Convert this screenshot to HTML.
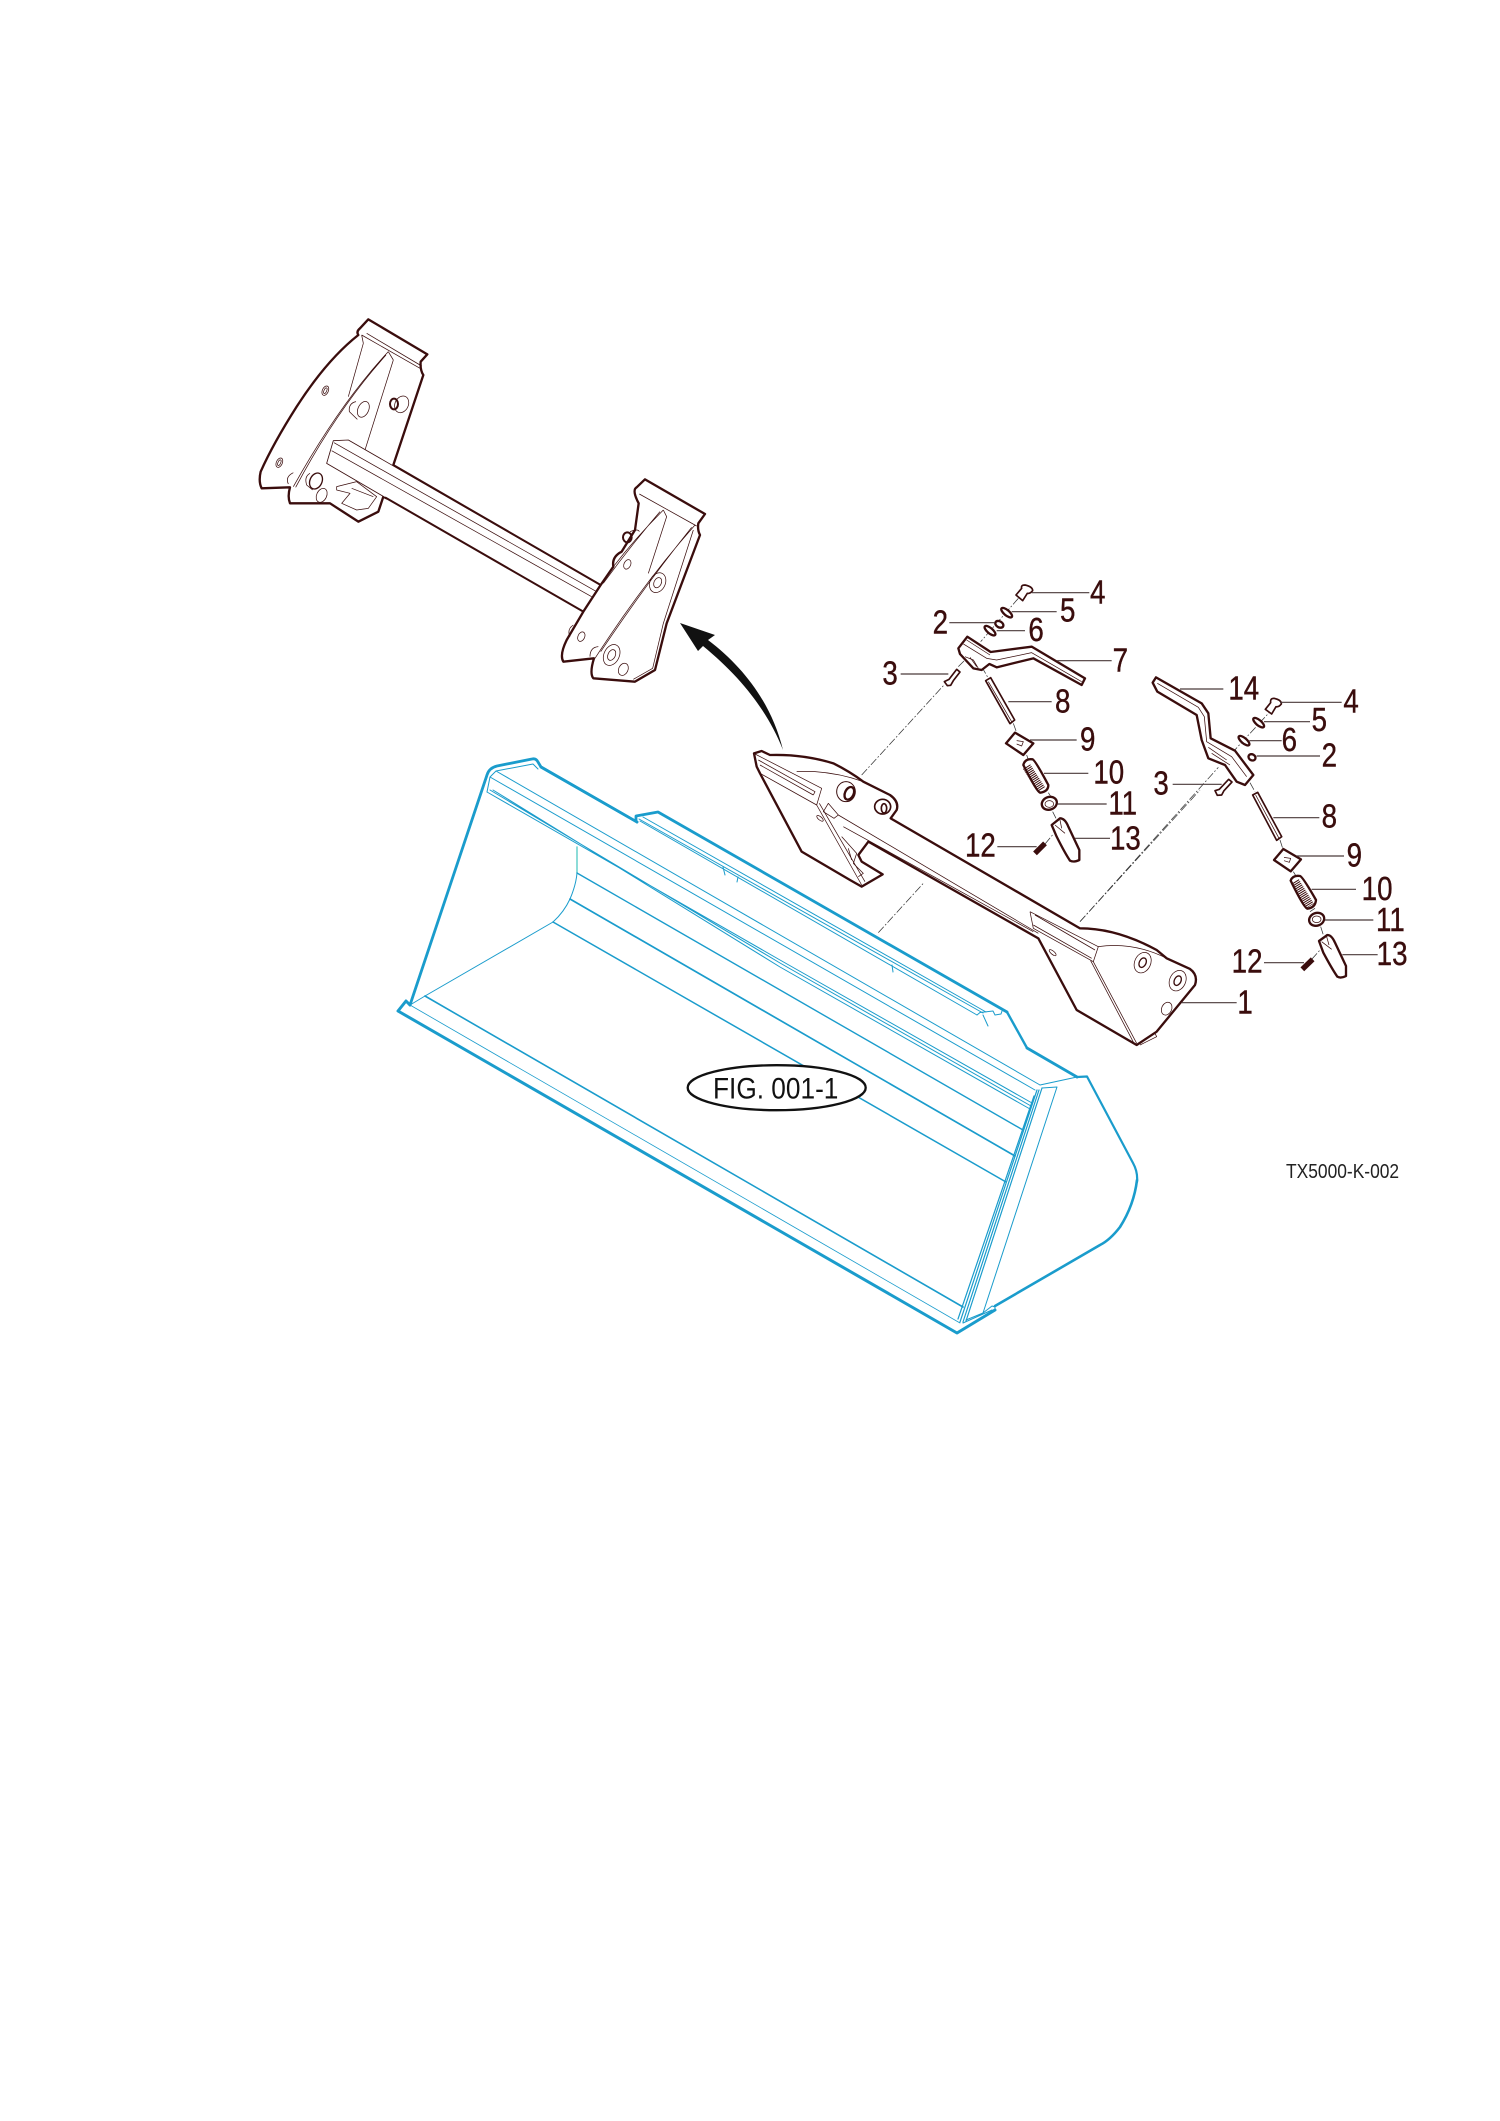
<!DOCTYPE html>
<html><head><meta charset="utf-8"><style>
html,body{margin:0;padding:0;background:#fff}
svg{display:block}
.t{font-family:"Liberation Sans",sans-serif;fill:#3a0d0d;stroke:#3a0d0d;stroke-width:1.2px;font-size:99px}
.b{fill:none;stroke:#1a9ccc;stroke-linejoin:round;stroke-linecap:round}
.m{fill:#fff;stroke:#3a0d0d;stroke-width:7;stroke-linejoin:round;stroke-linecap:round}
.n{fill:none;stroke:#3a0d0d;stroke-width:2.2;stroke-linejoin:round}
.l{fill:none;stroke:#4a3a3a;stroke-width:3.5}
.d{fill:none;stroke:#333;stroke-width:2.2;stroke-dasharray:24 6 5 6}
</style></head><body>
<svg width="1500" height="2121" viewBox="0 0 1500 2121" xmlns="http://www.w3.org/2000/svg">
<rect width="1500" height="2121" fill="#fff"/>

<!-- bucket (real coords) -->
<g class="b" stroke-width="1">
<path stroke-width="2.8" d="M410 1005 L487 775 Q489 768 497 766 L532 759 Q536 758 538 762 L541 767 L637 822"/>
<path stroke-width="2.8" d="M636 820 L636 816 L658 812 L1007 1012"/>
<path stroke-width="2.4" d="M1007 1012 L1027 1048"/>
<path stroke-width="2.8" d="M541 767 L637 822 M1027 1048 L1077 1077"/>
<path stroke-width="2.2" d="M1077 1077 L1087 1076.5 L1133 1163 Q1138 1172 1137 1182"/>
<path stroke-width="2.6" d="M1137 1180 Q1134 1205 1120 1227 Q1110 1240 1100 1245 L995 1306"/>
<path stroke-width="3" d="M995 1310 L957 1333 L398 1011 L406 1001 L410 1005"/>
<path d="M496 771 L533 764 L538 769 M496 771 L1040 1085 M490 777 L496 771 M490 777 L1035 1090 M490 777 L487 792"/>
<path d="M487 792 L780 960 L1032 1103 M490 790 L780 963 L1031 1106 M493 790 L780 967 L1030 1109"/>
<path d="M1040 1085 L1077 1077"/>
<path stroke="#5ccdc8" stroke-width="1.4" d="M577 847 L577 873"/>
<path d="M577 873 Q576 885 570 899 Q564 912 553 922 L425 996 L410 1005"/>
<path stroke-width="1.4" d="M577 873 L1023 1130"/>
<path stroke-width="1.7" d="M570 899 L1015 1156"/>
<path stroke-width="1.5" d="M553 922 L1006 1182"/>
<path stroke-width="1.6" d="M425 996 L963 1307"/>
<path stroke-width=".8" d="M410 1005 L960 1323"/>
<path d="M639 819 L983 1013 M640 821 L977 1015 M643 817 L986 1012"/>
<path d="M977 1015 L980 1012.5 L993 1011 L995 1015 L1001 1014 L1002 1011 M983 1015 L988 1026"/>
<path d="M723 867 L725 875 M738 877 L737 882 M892 965 L893 972"/>
<path d="M1042 1088 L1057 1087 L983 1313 L992 1306 L995 1307 L995 1310"/>
<path stroke-width="1.2" d="M1037 1090 L960 1322 M1039 1090 L963 1322 M1042 1088 L966 1321 M1034 1096 L958 1319"/>
<path d="M963 1323 L992 1310 M966 1320 L983 1313"/>
</g>

<!-- arrow -->
<path d="M680 623 L715 635 L708 640 C745 668 772 705 783 750 C768 712 742 678 703 646 L698 651 Z" fill="#111"/>

<!-- detached subframe -->
<g transform="translate(230,290) scale(.33333)">
<path class="m" d="M415 88 L592 193 L572 215 Q570 240 580 255 L490 525 L470 625 L460 620 L445 665 L385 695 L300 640 L180 640 Q172 620 180 592 L95 595 Q85 575 92 545 Q130 460 200 350 Q290 210 385 135 Q378 125 390 115 Z"/>
<g class="n">
<path d="M395 135 L570 235 M410 130 L575 228 M400 160 L355 320 M490 210 L405 480 M475 185 L490 210 M395 135 L400 160"/>
<path d="M475 185 Q330 340 190 590 M468 195 Q320 360 197 592"/>
<path d="M320 590 L380 575 L440 620 L415 655 L380 660 L335 640 L360 610 L320 600 Z M365 595 L430 620"/>
<ellipse cx="286" cy="302" rx="9" ry="15" transform="rotate(25 286 302)"/><ellipse cx="286" cy="302" rx="4" ry="9" transform="rotate(25 286 302)"/>
<ellipse cx="148" cy="518" rx="9" ry="15" transform="rotate(25 148 518)"/><ellipse cx="148" cy="518" rx="4" ry="9" transform="rotate(25 148 518)"/>
<ellipse cx="400" cy="358" rx="16" ry="25" transform="rotate(25 400 358)"/>
<path d="M378 335 Q355 340 358 365 L382 388"/>
<ellipse cx="515" cy="343" rx="20" ry="26" transform="rotate(25 515 343)"/>
<ellipse cx="492" cy="342" rx="12" ry="16" style="stroke-width:6"/>
<ellipse cx="258" cy="573" rx="18" ry="25" transform="rotate(25 258 573)" style="stroke-width:4"/>
<path d="M240 550 Q222 560 230 585 L248 600"/>
<ellipse cx="275" cy="616" rx="15" ry="22" transform="rotate(25 275 616)"/>
<path d="M190 548 Q165 560 175 582"/>
</g>
<!-- tube -->
<path class="m" d="M355 450 L1110 885 L1060 965 L470 625 L290 520 L310 452 Z" style="stroke-width:2.5"/>
<path fill="none" stroke="#3a0d0d" stroke-width="6" d="M490 525 L1112 885 M465 622 L1060 965"/>
<path class="n" d="M312 458 L1100 905 M305 482 L1085 920"/>
<!-- right bracket -->
<path class="m" d="M1245 568 L1425 672 L1405 700 Q1402 720 1410 735 L1310 1000 L1275 1140 L1215 1175 L1090 1165 Q1078 1150 1092 1105 L1000 1115 Q988 1095 1010 1050 L1060 965 L1112 885 L1150 830 Q1145 800 1175 785 L1215 720 L1226 640 Q1205 600 1220 592 Z"/>
<g class="n">
<path d="M1228 612 L1400 708 M1300 660 L1310 680 L1255 850 M1300 660 Q1220 740 1150 830 M1290 665 Q1200 770 1120 880 M1395 705 Q1240 880 1095 1105 M1385 712 Q1250 880 1112 1085"/>
<path d="M1390 720 L1300 1000 L1268 1135 L1210 1168"/>
<ellipse cx="1192" cy="823" rx="10" ry="15" transform="rotate(25 1192 823)"/>
<ellipse cx="1054" cy="1040" rx="10" ry="15" transform="rotate(25 1054 1040)"/>
<ellipse cx="1283" cy="878" rx="23" ry="31" transform="rotate(25 1283 878)"/><ellipse cx="1283" cy="878" rx="11" ry="16" transform="rotate(25 1283 878)"/>
<ellipse cx="1145" cy="1095" rx="23" ry="33" transform="rotate(25 1145 1095)"/><ellipse cx="1145" cy="1095" rx="11" ry="17" transform="rotate(25 1145 1095)"/>
<ellipse cx="1180" cy="1138" rx="14" ry="19" transform="rotate(25 1180 1138)"/>
<path d="M1105 1070 Q1080 1072 1080 1100"/>
<path d="M1030 1005 Q1010 1018 1020 1040"/>
<ellipse cx="1192" cy="742" rx="13" ry="15" style="stroke-width:6"/>
<path d="M1200 725 Q1225 715 1228 725"/>
</g>
</g>

<!-- main frame and left exploded parts -->
<g transform="translate(740,570) scale(.33333)">
<path class="d" d="M365 615 L612 345 M655 290 L680 265 M835 85 L722 215 M725 290 L745 325 M820 460 L830 488 M860 555 L866 572 M925 668 L933 680 M938 725 L948 745 M915 822 L940 792 M415 1088 L550 940 M1020 1055 L1380 660"/>
<path class="m" d="M42 550 L65 543 L90 555 Q190 552 280 580 Q330 605 370 635 L450 675 Q478 695 470 720 L452 745 L1020 1075 Q1130 1075 1250 1140 L1280 1165 L1350 1197 Q1375 1215 1365 1245 L1250 1385 L1190 1425 L1010 1320 L895 1105 L385 815 L355 855 L365 875 L428 913 L365 950 L330 930 L185 845 L60 610 L50 590 Z"/>
<g class="n">
<path d="M45 552 L245 655 L230 705 L60 610 M55 570 L225 665 L220 675 M60 585 L220 675"/>
<path d="M230 705 L365 945 M238 700 L375 935 M170 605 L225 605 Q300 610 370 635"/>
<path d="M295 735 L895 1090 M310 770 L880 1085 M295 735 L265 700 L250 725 L282 745 Z"/>
<ellipse cx="240" cy="745" rx="12" ry="5" transform="rotate(40 240 745)"/>
<path d="M305 800 L350 850 L340 880 L370 910 L355 920 M325 835 L335 870"/>
<path d="M870 1025 L1075 1130 L1060 1175 L880 1075 L870 1025 M885 1035 L1065 1140 M880 1065 L1055 1165"/>
<path d="M1060 1175 L1190 1420 M1052 1172 L1182 1420 M1075 1130 Q1180 1115 1280 1165"/>
<ellipse cx="938" cy="1148" rx="13" ry="5" transform="rotate(40 938 1148)"/>
<ellipse cx="1208" cy="1178" rx="24" ry="32" transform="rotate(25 1208 1178)"/><ellipse cx="1208" cy="1178" rx="10" ry="15" transform="rotate(25 1208 1178)" style="stroke-width:4"/>
<ellipse cx="1313" cy="1232" rx="24" ry="32" transform="rotate(25 1313 1232)"/><ellipse cx="1313" cy="1232" rx="10" ry="15" transform="rotate(25 1313 1232)" style="stroke-width:4"/>
<ellipse cx="1280" cy="1316" rx="15" ry="20" transform="rotate(25 1280 1316)"/>
<path d="M1195 1420 L1245 1390 L1250 1400 L1200 1425"/>
<ellipse cx="318" cy="665" rx="28" ry="30" style="stroke-width:3"/><ellipse cx="328" cy="670" rx="13" ry="20" transform="rotate(25 328 670)" style="stroke-width:7"/>
<ellipse cx="428" cy="710" rx="24" ry="22" style="stroke-width:5"/><ellipse cx="432" cy="715" rx="8" ry="14" style="stroke-width:5"/>
</g>
<!-- 4 -->
<path class="m" d="M828 75 L845 55 Q842 45 855 45 Q878 50 878 62 Q870 72 862 70 L848 92 Z" style="stroke-width:5"/>
<path class="l" d="M875 68 H1048"/>
<ellipse class="m" cx="800" cy="128" rx="20" ry="8" transform="rotate(40 800 128)"/>
<path class="l" d="M815 125 H950"/>
<ellipse class="m" cx="778" cy="163" rx="13" ry="9" transform="rotate(30 778 163)"/>
<path class="l" d="M628 158 H765"/>
<ellipse class="m" cx="750" cy="182" rx="20" ry="8" transform="rotate(40 750 182)"/>
<path class="l" d="M770 182 H855"/>
<!-- 7 -->
<path class="m" d="M682 200 L752 246 L875 230 L1035 325 L1025 345 L880 265 L770 292 L748 282 L725 300 L700 295 L660 252 L655 235 Z"/>
<path class="n" d="M670 222 L740 265 L770 270 L875 248 L1025 335 M680 210 L750 255 M675 260 L700 270 L715 295 M690 262 L710 290"/>
<path class="l" d="M950 272 H1115"/>
<!-- 3 -->
<path class="m" d="M613 335 L627 328 L650 298 L660 306 L640 332 L632 346 L622 347 Z" style="stroke-width:5"/>
<path class="l" d="M482 312 H625"/>
<!-- 8 -->
<path class="m" d="M737 332 L752 323 L824 450 L810 461 Z" style="stroke-width:5"/>
<path class="n" d="M745 335 L815 455"/>
<path class="l" d="M805 395 H935"/>
<!-- 9 -->
<path class="m" d="M825 488 L880 520 L850 555 L798 520 Z"/>
<path class="n" d="M830 512 L850 515 L845 528 L830 522"/>
<path class="l" d="M870 510 H1010"/>
<!-- 10 -->
<path class="m" d="M850 585 Q855 565 878 568 Q885 570 925 645 Q925 665 900 668 Q890 665 850 585 Z"/>
<path d="M860 590 L905 660" stroke="#3a0d0d" stroke-width="26" stroke-dasharray="3 3" fill="none"/>
<path class="l" d="M912 610 H1045"/>
<!-- 11 -->
<ellipse class="m" cx="928" cy="700" rx="23" ry="19" transform="rotate(-20 928 700)"/>
<ellipse class="n" cx="928" cy="702" rx="13" ry="10"/>
<path class="l" d="M952 702 H1100"/>
<!-- 13 -->
<path class="m" d="M935 765 L960 745 Q975 745 985 770 L1018 840 L1018 870 Q1000 878 990 872 Q975 850 950 800 Z"/>
<path class="n" d="M945 765 L975 790 M960 750 L965 775"/>
<path class="l" d="M1005 805 H1110"/>
<!-- 12 -->
<path d="M885 850 L915 820" stroke="#3a0d0d" stroke-width="16" fill="none"/>
<path class="l" d="M772 830 H890"/>
<g class="t">
<text transform="translate(1050,100) scale(.84,1)">4</text>
<text transform="translate(960,155) scale(.84,1)">5</text>
<text transform="translate(578,190) scale(.84,1)">2</text>
<text transform="translate(865,213) scale(.84,1)">6</text>
<text transform="translate(1118,305) scale(.84,1)">7</text>
<text transform="translate(427,343) scale(.84,1)">3</text>
<text transform="translate(945,428) scale(.84,1)">8</text>
<text transform="translate(1020,542) scale(.84,1)">9</text>
<text transform="translate(1060,640) scale(.84,1)">10</text>
<text transform="translate(1105,733) scale(.84,1)">11</text>
<text transform="translate(1110,838) scale(.84,1)">13</text>
<text transform="translate(675,860) scale(.84,1)">12</text>
</g>
</g>

<!-- right exploded parts -->
<g transform="translate(1080,660) scale(.33333)">
<path class="d" d="M0 785 L415 322 M455 280 L570 155 M510 368 L525 395 M600 540 L608 565 M640 635 L648 648 M705 745 L690 755 M722 800 L730 825 M695 898 L722 868"/>
<!-- 14 -->
<path class="m" d="M228 52 L365 130 L385 160 L392 235 L465 272 L520 345 L495 375 L470 365 L435 315 L385 295 L365 240 L350 165 L232 95 L218 68 Z"/>
<path class="n" d="M232 70 L355 142 L373 170 L380 245 L455 290 L500 350 M385 262 L440 300 M395 280 L450 315"/>
<path class="l" d="M300 87 H430"/>
<!-- 4 -->
<path class="m" d="M556 148 L572 128 Q570 115 582 115 Q605 120 604 132 Q596 142 588 140 L575 162 Z" style="stroke-width:5"/>
<path class="l" d="M600 127 H785"/>
<ellipse class="m" cx="536" cy="188" rx="20" ry="8" transform="rotate(40 536 188)"/>
<path class="l" d="M552 185 H690"/>
<ellipse class="m" cx="492" cy="242" rx="20" ry="8" transform="rotate(40 492 242)"/>
<path class="l" d="M508 242 H605"/>
<ellipse class="m" cx="516" cy="292" rx="11" ry="9" transform="rotate(30 516 292)"/>
<path class="l" d="M530 288 H720"/>
<!-- 3 -->
<path class="m" d="M405 392 L418 388 L446 358 L456 366 L432 392 L425 405 L412 406 Z" style="stroke-width:5"/>
<path class="l" d="M278 373 H425"/>
<!-- 8 -->
<path class="m" d="M518 405 L533 397 L605 530 L590 541 Z" style="stroke-width:5"/>
<path class="n" d="M527 405 L597 535"/>
<path class="l" d="M580 473 H718"/>
<!-- 9 -->
<path class="m" d="M610 567 L663 598 L632 634 L582 600 Z"/>
<path class="n" d="M612 592 L632 595 L628 607 L612 602"/>
<path class="l" d="M650 588 H792"/>
<!-- 10 -->
<path class="m" d="M632 662 Q638 645 660 648 Q668 650 708 720 Q706 743 682 746 Q672 744 632 662 Z"/>
<path d="M645 665 L690 738" stroke="#3a0d0d" stroke-width="27" stroke-dasharray="3 3" fill="none"/>
<path class="l" d="M695 688 H828"/>
<!-- 11 -->
<ellipse class="m" cx="710" cy="778" rx="23" ry="19" transform="rotate(-20 710 778)"/>
<ellipse class="n" cx="710" cy="778" rx="13" ry="10"/>
<path class="l" d="M735 780 H880"/>
<!-- 13 -->
<path class="m" d="M717 843 L742 825 Q755 825 765 848 L798 918 L798 948 Q782 956 772 950 Q755 925 730 878 Z"/>
<path class="n" d="M725 845 L755 868 M740 830 L747 855"/>
<path class="l" d="M787 884 H893"/>
<!-- 12 -->
<path d="M667 928 L698 898" stroke="#3a0d0d" stroke-width="16" fill="none"/>
<path class="l" d="M552 908 H672"/>
<g class="t">
<text transform="translate(445,118) scale(.84,1)">14</text>
<text transform="translate(790,158) scale(.84,1)">4</text>
<text transform="translate(695,213) scale(.84,1)">5</text>
<text transform="translate(605,273) scale(.84,1)">6</text>
<text transform="translate(725,320) scale(.84,1)">2</text>
<text transform="translate(220,403) scale(.84,1)">3</text>
<text transform="translate(725,503) scale(.84,1)">8</text>
<text transform="translate(800,620) scale(.84,1)">9</text>
<text transform="translate(845,720) scale(.84,1)">10</text>
<text transform="translate(888,813) scale(.84,1)">11</text>
<text transform="translate(890,915) scale(.84,1)">13</text>
<text transform="translate(455,938) scale(.84,1)">12</text>
</g>
</g>
<g transform="translate(1080,800) scale(.33333)">
<path class="l" d="M305 608 H470"/>
<text class="t" transform="translate(472,640) scale(.84,1)">1</text>
</g>

<!-- figure oval -->
<ellipse cx="776.7" cy="1087.7" rx="89" ry="22.5" fill="#fff" stroke="#111" stroke-width="2.3"/>
<text transform="translate(713,1098.5) scale(.875,1)" font-family="'Liberation Sans',sans-serif" font-size="30" fill="#111">FIG. 001-1</text>

<text transform="translate(1286,1178) scale(.87,1)" font-family="'Liberation Sans',sans-serif" font-size="20" fill="#222">TX5000-K-002</text>
</svg>
</body></html>
